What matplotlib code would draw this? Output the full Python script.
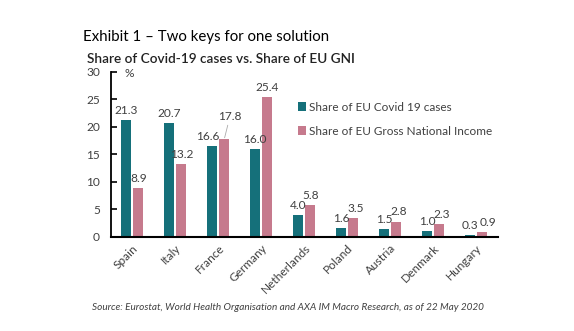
import numpy as np
import matplotlib.pyplot as plt

plt.rcParams['font.family'] = ['Lato', 'DejaVu Sans']

countries = ['Spain', 'Italy', 'France', 'Germany', 'Netherlands',
             'Poland', 'Austria', 'Denmark', 'Hungary']
covid_share = [21.3, 20.7, 16.6, 16.0, 4.0, 1.6, 1.5, 1.0, 0.3]
gni_share = [8.9, 13.2, 17.8, 25.4, 5.8, 3.5, 2.8, 2.3, 0.9]
yticks = [0, 5, 10, 15, 20, 25, 30]

teal = '#15707a'
pink = '#c67a8d'
txt = '#404040'

fig = plt.figure(figsize=(5.74, 3.31), dpi=100)
ax = fig.add_axes([0.1934, 0.284, 0.674, 0.4985])

x = np.arange(len(countries))
w = 0.24
b1 = ax.bar(x - 0.145, covid_share, w, color=teal, label='Share of EU Covid 19 cases')
b2 = ax.bar(x + 0.135, gni_share, w, color=pink, label='Share of EU Gross National Income')

# value labels above bars
for i, (r, v) in enumerate(zip(b1, covid_share)):
    dx = -3 if countries[i] == 'France' else 0
    ax.annotate(f'{v:.1f}', (r.get_x() + r.get_width() / 2, v), xytext=(dx, 3),
                textcoords='offset points', ha='center', va='bottom', fontsize=8.6, color=txt)
for i, (r, v) in enumerate(zip(b2, gni_share)):
    if countries[i] == 'France':
        ax.annotate(f'{v:.1f}', (r.get_x() + r.get_width() / 2, v), xytext=(4, 12),
                    textcoords='offset points', ha='center', va='bottom', fontsize=8.6, color=txt,
                    arrowprops=dict(arrowstyle='-', color='#aaaaaa', lw=0.6, shrinkA=0, shrinkB=1))
        continue
    dx = 2 if i >= 5 else 0
    if countries[i] == 'Hungary':
        dx = 4
    ax.annotate(f'{v:.1f}', (r.get_x() + r.get_width() / 2, v), xytext=(dx, 3),
                textcoords='offset points', ha='center', va='bottom', fontsize=8.6, color=txt)

ax.set_xlim(-0.5, len(countries) - 0.5)
ax.set_ylim(0, 30)
ax.set_yticks(yticks)
ax.tick_params(axis='y', direction='in', length=4, width=1.2, pad=8, labelsize=8.6, labelcolor=txt)
ax.set_xticks(x)
ax.set_xticklabels(countries, rotation=45, ha='right', rotation_mode='anchor', fontsize=8.6, color=txt)
ax.tick_params(axis='x', length=0, pad=4)
for s in ['top', 'right']:
    ax.spines[s].set_visible(False)
ax.spines['left'].set_linewidth(1.3)
ax.spines['bottom'].set_linewidth(1.5)

ax.text(0.035, 0.99, '%', transform=ax.transAxes, fontsize=8.6, color=txt, va='center')

ax.legend(loc='upper left', bbox_to_anchor=(0.455, 0.885), frameon=False, fontsize=8.5,
          handlelength=0.7, handleheight=0.7, handletextpad=0.3, labelspacing=1.1,
          labelcolor=txt)

fig.text(0.145, 0.875, 'Exhibit 1 \u2013 Two keys for one solution', fontsize=10.8, color='black')
fig.text(0.151, 0.81, 'Share of Covid-19 cases vs. Share of EU GNI', fontsize=9.8,
         fontweight='semibold', color='#222222')
fig.text(0.16, 0.063, 'Source: Eurostat, World Health Organisation and AXA IM Macro Research, as of 22 May 2020',
         fontsize=7.2, style='italic', color=txt)

fig.savefig('out.png', dpi=100)
